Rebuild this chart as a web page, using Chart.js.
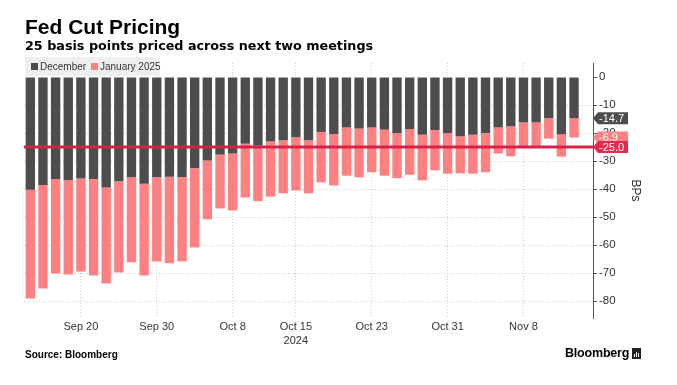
<!DOCTYPE html>
<html>
<head>
<meta charset="utf-8">
<script src="https://cdn.jsdelivr.net/npm/chart.js@4.4.1/dist/chart.umd.min.js"></script>
<style>
html,body{margin:0;padding:0;background:#fff;}
#wrap{position:relative;width:677px;height:385px;overflow:hidden;font-family:"Liberation Sans",Arial,sans-serif;}
#c{position:absolute;left:0;top:0;}
#title{position:absolute;left:25px;top:16px;font-weight:bold;font-size:21px;line-height:21px;color:#000;white-space:nowrap;}
#subtitle{position:absolute;left:25px;top:38px;font-family:"DejaVu Sans",sans-serif;font-weight:bold;font-size:12.75px;line-height:15px;color:#000;white-space:nowrap;}
#legend{position:absolute;left:25px;top:57px;width:135px;height:19px;background:#efefef;font-family:"Liberation Sans",Arial,sans-serif;font-size:10px;line-height:19px;color:#333;white-space:nowrap;}
#legend span.sw{display:inline-block;width:7px;height:7px;margin:0 2px 0 0;vertical-align:0px;}
#legend span.it{position:absolute;top:0;}
#source{position:absolute;left:25px;top:349px;font-weight:bold;font-size:10px;line-height:11px;color:#000;}
#logo{position:absolute;left:565px;top:346px;font-weight:bold;font-size:12.5px;line-height:14px;color:#000;letter-spacing:-0.2px;}
#icon{position:absolute;left:632px;top:348px;width:9px;height:11px;background:#222;}
#icon i{position:absolute;bottom:2px;width:1px;background:#fff;}
</style>
</head>
<body>
<div id="wrap">
  <canvas id="c" width="677" height="385"></canvas>
  <div id="title">Fed Cut Pricing</div>
  <div id="subtitle">25 basis points priced across next two meetings</div>
  <div id="legend">
    <span class="it" style="left:6px"><span class="sw" style="background:#4d4d4d"></span>December</span>
    <span class="it" style="left:66px"><span class="sw" style="background:#ff8080"></span>January 2025</span>
  </div>
  <div id="source">Source: Bloomberg</div>
  <div id="logo">Bloomberg</div>
  <div id="icon"><i style="left:2px;height:3px"></i><i style="left:4px;height:5px"></i><i style="left:6px;height:4px"></i></div>
</div>
<script>
// ---- data ----
const dates = ['Sep 16','Sep 17','Sep 18','Sep 19','Sep 20','Sep 23','Sep 24','Sep 25','Sep 26','Sep 27',
  'Sep 30','Oct 1','Oct 2','Oct 3','Oct 4','Oct 7','Oct 8','Oct 9','Oct 10','Oct 11',
  'Oct 14','Oct 15','Oct 16','Oct 17','Oct 18','Oct 21','Oct 22','Oct 23','Oct 24','Oct 25',
  'Oct 28','Oct 29','Oct 30','Oct 31','Nov 1','Nov 4','Nov 5','Nov 6','Nov 7','Nov 8',
  'Nov 11','Nov 12','Nov 13','Nov 14','Nov 15'];
const december = [-40.2,-38.5,-36.4,-36.8,-36.2,-36.4,-39.4,-37.2,-35.8,-38.1,
  -35.8,-35.6,-35.7,-32.6,-29.8,-27.7,-27.3,-23.8,-24.5,-23.0,
  -22.6,-21.5,-22.6,-19.6,-20.4,-18.0,-18.4,-18.0,-18.8,-20.0,
  -18.6,-20.6,-18.9,-20.0,-21.2,-20.6,-20.0,-18.0,-17.6,-16.2,
  -16.2,-14.7,-20.5,-14.7];
const january = [-79.0,-75.5,-70.1,-70.5,-69.4,-70.8,-73.7,-69.8,-66.1,-70.8,
  -65.8,-66.5,-65.8,-60.8,-50.8,-46.9,-47.6,-43.0,-44.3,-42.7,
  -41.5,-40.5,-41.5,-37.6,-38.7,-35.2,-35.8,-34.0,-35.2,-36.1,
  -34.9,-36.9,-33.3,-34.5,-34.4,-34.5,-34.0,-27.3,-28.3,-24.8,
  -24.8,-22.0,-28.4,-21.6];
const tickDates = ['Sep 20','Sep 30','Oct 8','Oct 15','Oct 23','Oct 31','Nov 8'];
const yearLabel = {date:'Oct 15', text:'2024'};
const cutLevel = -25;
const yTickValues = [0,-5,-10,-15,-20,-25,-30,-35,-40,-45,-50,-55,-60,-65,-70,-75,-80,-85];

const DARK = '#4d4d4d', PINK = '#ff8080', RED = '#d9204a', RED_TAG = '#e52a50';
const FONT = '"Liberation Sans", Arial, sans-serif';

function fmt(v){ return (Math.round(v*10)/10).toFixed(1); }

function drawTag(ctx, x, y, text, color){
  const h = 12, w = 35, tip = 5;
  ctx.save();
  ctx.fillStyle = color;
  ctx.beginPath();
  ctx.moveTo(x, y);
  ctx.lineTo(x + tip, y - h/2);
  ctx.lineTo(x + w, y - h/2);
  ctx.lineTo(x + w, y + h/2);
  ctx.lineTo(x + tip, y + h/2);
  ctx.closePath();
  ctx.fill();
  ctx.fillStyle = '#fff';
  ctx.font = '11px ' + FONT;
  ctx.textBaseline = 'middle';
  ctx.textAlign = 'left';
  ctx.fillText(text, x + tip + 1, y + 0.5);
  ctx.restore();
}

const markers = {
  id: 'markers',
  afterDatasetsDraw(chart){
    const {ctx, chartArea, scales} = chart;
    const yl = scales.y.getPixelForValue(cutLevel);
    ctx.save();
    ctx.strokeStyle = RED;
    ctx.lineWidth = 3;
    ctx.beginPath();
    ctx.moveTo(chartArea.left, yl);
    ctx.lineTo(chartArea.right, yl);
    ctx.stroke();
    ctx.restore();
  },
  afterDraw(chart){
    const {ctx, chartArea, scales} = chart;
    const y = scales.y;
    const last = december.length - 1;
    const x0 = chartArea.right;
    drawTag(ctx, x0, y.getPixelForValue(december[last]), fmt(december[last]), DARK);
    drawTag(ctx, x0, y.getPixelForValue(january[last]), fmt(january[last] - december[last]), PINK);
    drawTag(ctx, x0, y.getPixelForValue(cutLevel), fmt(cutLevel), RED_TAG);
  }
};

new Chart(document.getElementById('c'), {
  type: 'bar',
  data: {
    labels: dates,
    datasets: [
      { label: 'December', data: december, backgroundColor: DARK, borderWidth: 0 },
      { label: 'January 2025', data: december.map((d, i) => [d, january[i]]), backgroundColor: PINK, borderWidth: 0 }
    ]
  },
  options: {
    responsive: false,
    animation: false,
    events: [],
    layout: { padding: { left: 24, top: 63, right: 0, bottom: 27 } },
    datasets: { bar: { grouped: false, categoryPercentage: 1, barPercentage: 0.74 } },
    plugins: { legend: { display: false }, tooltip: { enabled: false } },
    scales: {
      x: {
        offset: true,
        grid: {
          offset: false,
          drawTicks: false,
          color: ctx => (ctx.tick && tickDates.includes(dates[ctx.index])) ? '#cccccc' : 'rgba(0,0,0,0)',
          lineWidth: 1
        },
        border: { display: false, dash: [1, 2] },
        ticks: {
          autoSkip: false, maxRotation: 0, minRotation: 0, padding: 2,
          color: '#333', font: { family: FONT, size: 11, lineHeight: 1.25 },
          callback: (v, i) => {
            const d = dates[i];
            if (!tickDates.includes(d)) return '';
            return d === yearLabel.date ? [d, yearLabel.text] : d;
          }
        },
        afterFit: s => { s.height = 40; }
      },
      y: {
        position: 'right',
        min: -86, max: 5,
        afterBuildTicks: s => { s.ticks = yTickValues.map(v => ({ value: v })); },
        grid: {
          color: ctx => (ctx.tick && ctx.tick.value % 10 === 0 && ctx.tick.value !== 0) ? '#cccccc' : 'rgba(0,0,0,0)',
          tickColor: '#555',
          tickLength: 4,
          tickBorderDash: [],
          lineWidth: 1
        },
        border: { display: true, color: '#555', width: 1, dash: [1, 2] },
        ticks: {
          padding: 2, color: '#333', font: { family: FONT, size: 11.5 },
          callback: v => (v % 10 === 0 ? String(v) : '')
        },
        title: { display: true, text: 'BPs', color: '#333', font: { family: FONT, size: 12 }, padding: { top: 34, bottom: 0 } },
        afterFit: s => { s.width = 84; }
      }
    }
  },
  plugins: [markers]
});
</script>
</body>
</html>
